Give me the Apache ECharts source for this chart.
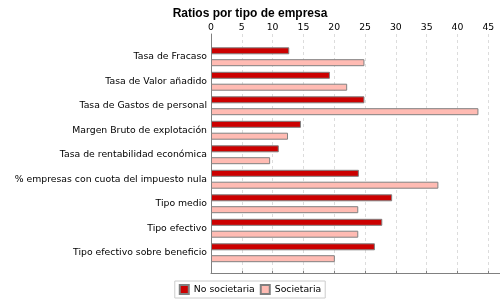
<!DOCTYPE html>
<html>
<head>
<meta charset="utf-8">
<script src="https://cdn.jsdelivr.net/npm/echarts@6/dist/echarts.min.js"></script>
<style>
  html, body { margin: 0; padding: 0; background: #fff; }
  #chart { width: 500px; height: 300px; }
</style>
</head>
<body>
<div id="chart"></div>
<script>
// datos del grafico
var categorias = [
  "Tasa de Fracaso",
  "Tasa de Valor añadido",
  "Tasa de Gastos de personal",
  "Margen Bruto de explotación",
  "Tasa de rentabilidad económica",
  "% empresas con cuota del impuesto nula",
  "Tipo medio",
  "Tipo efectivo",
  "Tipo efectivo sobre beneficio"
];
var noSocietaria = [12.7, 19.3, 24.9, 14.6, 11.0, 24.0, 29.4, 27.8, 26.6];
var societaria = [24.9, 22.1, 43.4, 12.5, 9.6, 36.9, 23.9, 23.9, 20.1];
var ticksX = [0, 5, 10, 15, 20, 25, 30, 35, 40, 45];

var fuente = "DejaVu Sans";
var xMax = 46.9;

var chart = echarts.init(document.getElementById("chart"));

var option = {
  animation: false,
  title: {
    text: "Ratios por tipo de empresa",
    left: "center",
    top: 3,
    textStyle: {
      fontFamily: "Liberation Sans",
      fontSize: 12,
      fontWeight: "bold",
      color: "#000"
    }
  },
  legend: {
    bottom: 2,
    left: "center",
    icon: "rect",
    borderColor: "#cccccc",
    borderWidth: 1,
    padding: [3, 4],
    itemGap: 5,
    itemWidth: 9,
    itemHeight: 9,
    textStyle: { fontFamily: fuente, fontSize: 9.3, color: "#000" },
    data: ["No societaria", "Societaria"]
  },
  grid: [
    // marco: ejes y rejilla
    { left: 211, right: 0, top: 34, bottom: 27 },
    // barras
    { left: 211, right: 0, top: 44.5, bottom: 35 }
  ],
  xAxis: [
    {
      gridIndex: 0,
      type: "value",
      position: "top",
      min: 0,
      max: xMax,
      interval: 5,
      axisLine: { show: true, lineStyle: { color: "#808080" } },
      axisTick: { show: true, length: 2, lineStyle: { color: "#808080" } },
      axisLabel: {
        margin: 2,
        fontFamily: fuente,
        fontSize: 9.3,
        color: "#000",
        showMaxLabel: false,
        formatter: function (v) {
          return ticksX.indexOf(v) >= 0 ? String(v) : "";
        }
      },
      splitLine: {
        show: true,
        showMinLine: false,
        showMaxLine: false,
        lineStyle: { color: "#dcdcdc", type: [3, 3] }
      }
    },
    {
      gridIndex: 1,
      type: "value",
      min: 0,
      max: xMax,
      show: false
    }
  ],
  yAxis: [
    {
      gridIndex: 0,
      type: "value",
      min: 0,
      max: 1,
      axisLine: { show: true, lineStyle: { color: "#808080" } },
      axisTick: { show: false },
      axisLabel: { show: false },
      splitLine: { show: false }
    },
    {
      gridIndex: 1,
      type: "category",
      inverse: true,
      data: categorias,
      axisLine: { show: false },
      axisTick: { show: false },
      axisLabel: {
        margin: 4,
        fontFamily: fuente,
        fontSize: 9.3,
        color: "#000"
      }
    }
  ],
  series: [
    {
      name: "No societaria",
      type: "bar",
      xAxisIndex: 1,
      yAxisIndex: 1,
      barWidth: 7,
      barGap: "70%",
      data: noSocietaria,
      itemStyle: { color: "#cc0000", borderColor: "#808080", borderWidth: 1 }
    },
    {
      name: "Societaria",
      type: "bar",
      xAxisIndex: 1,
      yAxisIndex: 1,
      barWidth: 7,
      barGap: "70%",
      data: societaria,
      itemStyle: { color: "#ffbbb3", borderColor: "#808080", borderWidth: 1 }
    }
  ]
};

chart.setOption(option);
</script>
</body>
</html>
